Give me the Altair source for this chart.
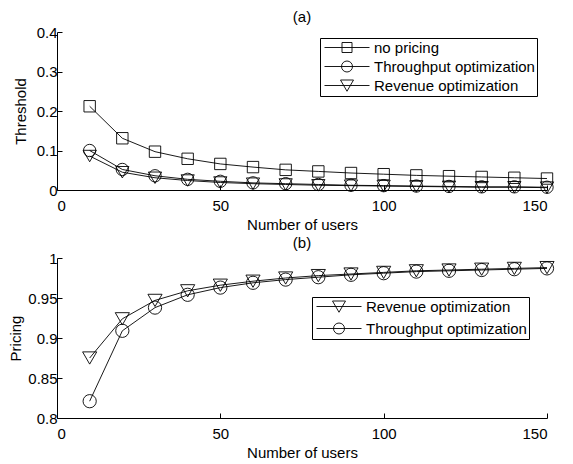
import altair as alt
import pandas as pd

users = [10, 20, 30, 40, 50, 60, 70, 80, 90, 100, 110, 120, 130, 140, 150]

th_no_pricing = [0.212, 0.131, 0.097, 0.079, 0.066, 0.058, 0.051, 0.047, 0.043, 0.040, 0.037, 0.035, 0.033, 0.031, 0.029]
th_throughput = [0.100, 0.052, 0.036, 0.027, 0.022, 0.018, 0.016, 0.014, 0.012, 0.011, 0.010, 0.009, 0.008, 0.008, 0.007]
th_revenue = [0.086, 0.045, 0.031, 0.024, 0.019, 0.016, 0.014, 0.012, 0.011, 0.010, 0.009, 0.008, 0.007, 0.007, 0.006]

pr_revenue = [0.875, 0.924, 0.947, 0.959, 0.966, 0.971, 0.975, 0.978, 0.980, 0.982, 0.984, 0.985, 0.986, 0.987, 0.988]
pr_throughput = [0.821, 0.909, 0.938, 0.954, 0.963, 0.969, 0.973, 0.976, 0.979, 0.981, 0.983, 0.984, 0.985, 0.986, 0.987]

series_a = ["no pricing", "Throughput optimization", "Revenue optimization"]
series_b = ["Revenue optimization", "Throughput optimization"]

x_ticks = [0, 50, 100, 150]
y_ticks_a = [0, 0.1, 0.2, 0.3, 0.4]
y_ticks_b = [0.8, 0.85, 0.9, 0.95, 1.0]

FONT = "Liberation Sans"

plot_shapes = {"no pricing": "square", "Throughput optimization": "circle", "Revenue optimization": "triangle-down"}
legend_paths = {
    "no pricing": "M-1,0L8,0M2.5,-1L4.5,-1L4.5,1L2.5,1Z",
    "Throughput optimization": "M-1,0L8,0M4.6,0A1.1,1.1 0 1,1 2.4,0A1.1,1.1 0 1,1 4.6,0",
    "Revenue optimization": "M-1,0L8,0M2.2,-1.1L4.8,-1.1L3.5,1.15Z",
}
marker_sizes = {"square": 130, "circle": 175, "triangle-down": 200}

df_a = pd.DataFrame({
    "users": users * 3,
    "value": th_no_pricing + th_throughput + th_revenue,
    "series": [s for s in series_a for _ in users],
})
df_b = pd.DataFrame({
    "users": users * 2,
    "value": pr_revenue + pr_throughput,
    "series": [s for s in series_b for _ in users],
})

tick_in = alt.ExprRef(expr="-5")


def panel(df, series, yticks, ydomain, ytitle, title, lx, ly, height, row_pad, title_pad):
    x = alt.X("users:Q", scale=alt.Scale(domain=[0, 150], nice=False, zero=False),
              axis=alt.Axis(values=x_ticks, title="Number of users", format="d",
                            tickSize=tick_in, labelPadding=13, titlePadding=4))
    y = alt.Y("value:Q", scale=alt.Scale(domain=ydomain, nice=False, zero=False),
              axis=alt.Axis(values=yticks, title=ytitle, format="~g",
                            tickSize=tick_in, labelPadding=5, titlePadding=title_pad))
    base = alt.Chart(df)
    lines = base.mark_line(color="black", strokeWidth=0.9).encode(
        x=x, y=y, detail="series:N", order="users:Q")
    points = base.mark_point(filled=False, color="black", strokeWidth=0.9, opacity=1).encode(
        x=x, y=y,
        shape=alt.Shape("series:N", scale=alt.Scale(domain=series, range=[plot_shapes[s] for s in series]), legend=None),
        size=alt.Size("series:N", scale=alt.Scale(domain=series, range=[marker_sizes[plot_shapes[s]] for s in series]), legend=None),
    )
    leg = base.transform_filter("false").mark_point(filled=False, color="black", strokeWidth=0.9, opacity=1).encode(
        x=x, y=y,
        shape=alt.Shape("series:N",
                        scale=alt.Scale(domain=series, range=[legend_paths[s] for s in series]),
                        legend=alt.Legend(title=None,
                                          orient="none", legendX=lx, legendY=ly,
                                          symbolSize=100, symbolStrokeWidth=0.9,
                                          symbolStrokeColor="black", symbolFillColor="transparent",
                                          labelFontSize=15, labelFont=FONT, labelColor="black",
                                          labelLimit=400,
                                          labelOffset=37, rowPadding=row_pad, padding=2,
                                          strokeColor="black", fillColor="white", cornerRadius=0)),
    )
    return alt.layer(lines, points, leg).resolve_scale(shape="independent", size="independent").properties(
        width=490, height=height,
        title=alt.TitleParams(title, fontSize=15, fontWeight="normal", font=FONT, color="black",
                              anchor="middle", offset=0),
    )


top = panel(df_a, series_a, y_ticks_a, [0, 0.4], "Threshold", "(a)", 263, 6, 158, 3, 8)
bottom = panel(df_b, series_b, y_ticks_b, [0.8, 1.0], "Pricing", "(b)", 255, 39, 160, 6, 4)

chart = alt.vconcat(top, bottom, spacing=4).properties(
    padding={"left": 0, "top": 2, "right": 0, "bottom": 0}
).configure_view(stroke=None).configure_axis(
    labelFont=FONT, titleFont=FONT, labelFontSize=15, titleFontSize=15,
    labelColor="black", titleColor="black", titleFontWeight="normal",
    domainColor="black", tickColor="black", domainWidth=1, tickWidth=1, grid=False,
)

chart.save("out.html", embed_options={"renderer": "svg", "actions": False})
